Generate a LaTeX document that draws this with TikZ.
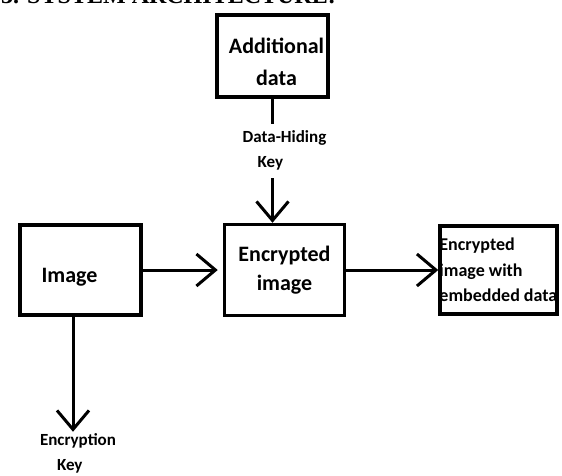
\documentclass[tikz,border=0pt]{standalone}
\usepackage{fontspec}
\setmainfont{Carlito}
\newfontfamily\headfont{Liberation Serif}
\usepackage{tikz}
\usetikzlibrary{arrows.meta, positioning}
\tikzset{
    block/.style={
        rectangle,
        draw=black,
        line width=3.5pt,
        fill=white,
        inner sep=0pt
    },
    blocktext/.style={
        font=\bfseries\fontsize{22}{30}\selectfont,
        align=center,
        inner sep=0pt
    },
    keytext/.style={
        font=\bfseries\fontsize{17}{25}\selectfont,
        align=left,
        fill=white,
        inner xsep=2pt,
        inner ysep=7pt
    },
    flow/.style={
        draw=black,
        line width=3pt,
        -{Straight Barb[length=19pt, width=32pt, line width=3pt]}
    }
}

\begin{document}
\begin{tikzpicture}[x=1pt, y=-1pt]

\useasboundingbox (0,0) rectangle (562,475);

% Heading (cut off at the top)
\node[anchor=base east, inner sep=0pt, font=\headfont\bfseries\fontsize{24}{28}\selectfont] (heading) at (336,3) {3. SYSTEM ARCHITECTURE:};

% Blocks
\node[block, minimum width=121pt, minimum height=90pt] (img) at (80.5,270) {};
\node[blocktext, xshift=-11pt, yshift=-7pt] (imgtext) at (img) {Image};

\node[block, right=80pt of img, minimum width=120pt, minimum height=91pt, font=\bfseries\fontsize{22}{29}\selectfont, align=center] (enc) {Encrypted\\image};

\node[block, right=92pt of enc, minimum width=117pt, minimum height=88pt] (final) {};
\node[blocktext, font=\bfseries\fontsize{18}{25.5}\selectfont, align=left, anchor=west, xshift=1pt] (finaltext) at (final.west) {Encrypted\\image with\\embedded data};

\node[block, above=124pt of enc, xshift=-12pt, minimum width=111pt, minimum height=82pt] (add) {};
\node[blocktext, font=\bfseries\fontsize{22}{32}\selectfont, xshift=4pt, yshift=-6pt] (addtext) at (add) {Additional\\data};

% Connectors
\draw[flow, shorten >=5pt] (img) -- (enc);
\draw[flow] (enc) -- (final);
\draw[flow] (add.south) -- node[keytext, pos=0.42, xshift=12pt] (hidekey) {Data-Hiding\\\hspace{15pt}Key} (add.south |- enc.north);

\coordinate[below=115pt of img.south, xshift=-7.5pt] (enckey);
\draw[flow] (img.south -| enckey) -- (enckey);
\node[keytext, fill=none, inner ysep=0pt, anchor=north, xshift=5pt, yshift=-2pt] (enctext) at (enckey) {Encryption\\\hspace{17pt}Key};

\end{tikzpicture}
\end{document}
